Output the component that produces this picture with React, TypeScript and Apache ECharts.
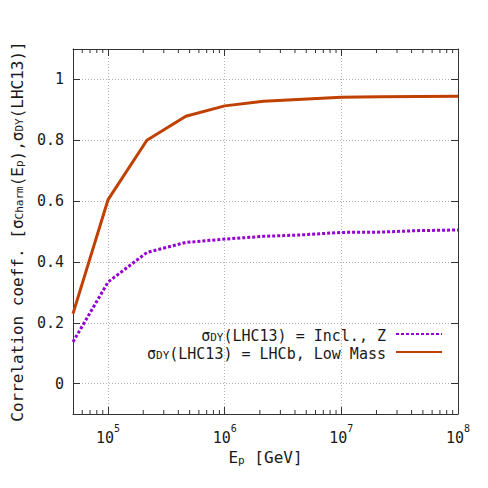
import React, { useEffect, useRef } from "react";
import * as echarts from "echarts";

const energies = [5e4, 1e5, 2.15e5, 4.64e5, 1e6, 2.15e6, 4.64e6, 1e7, 2.15e7, 4.64e7, 1e8];
const inclZ = [0.137, 0.334, 0.431, 0.464, 0.475, 0.484, 0.489, 0.497, 0.498, 0.503, 0.505];
const lhcbLowMass = [0.23, 0.605, 0.8, 0.879, 0.913, 0.928, 0.935, 0.941, 0.943, 0.944, 0.945];
const minorMantissas = [2, 3, 4, 5, 6, 7, 8, 9];
const minorDecades = [1e4, 1e5, 1e6, 1e7];
const seriesNames = ["σDY(LHC13) = Incl., Z", "σDY(LHC13) = LHCb, Low Mass"];

const FONT = "'DejaVu Sans Mono', monospace";
const TXT = "#1a1a1a";
const AX = "#333333";

export default function App() {
  const ref = useRef<HTMLDivElement>(null);
  useEffect(() => {
    if (!ref.current) return;
    const chart = echarts.init(ref.current, null, { renderer: "svg" });
    const minorTicks: number[][] = [];
    minorDecades.forEach((d) =>
      minorMantissas.forEach((m) => {
        const v = m * d;
        if (v > 5e4 && v < 1e8) minorTicks.push([v, -0.1]);
      })
    );
    const big = { fontFamily: FONT, fontSize: 16, color: TXT, lineHeight: 22, verticalAlign: "bottom" };
    const base = { fontFamily: FONT, fontSize: 15, color: TXT, lineHeight: 22, verticalAlign: "bottom" };
    const sub = { fontFamily: FONT, fontSize: 11, color: TXT, lineHeight: 12, verticalAlign: "bottom" };
    const sup = { fontFamily: FONT, fontSize: 10, color: TXT, lineHeight: 10, verticalAlign: "top" };
    const lgBase = { fontFamily: FONT, fontSize: 15, color: TXT, lineHeight: 18, verticalAlign: "bottom" };
    const lgSub = { fontFamily: FONT, fontSize: 11, color: TXT, lineHeight: 10, verticalAlign: "bottom" };
    const gridLine = { show: true, lineStyle: { color: "#b4b4b4", type: [1, 2], width: 1 } };
    const xCommon = {
      type: "log",
      logBase: 10,
      min: 5e4,
      max: 1e8,
      axisLine: { show: true, onZero: false, lineStyle: { color: AX, width: 1 } },
      axisTick: { show: true, inside: true, length: 7, lineStyle: { color: AX } },
    };
    const yCommon = {
      type: "value",
      min: -0.1,
      max: 1.1,
      axisLine: { show: true, onZero: false, lineStyle: { color: AX, width: 1 } },
      axisTick: { show: true, inside: true, length: 7, lineStyle: { color: AX } },
    };
    const data0 = energies.map((e, i) => [e, inclZ[i]]);
    const data1 = energies.map((e, i) => [e, lhcbLowMass[i]]);
    chart.setOption({
      animation: false,
      backgroundColor: "#ffffff",
      grid: { left: 73, right: 30, top: 49, bottom: 74, containLabel: false },
      xAxis: [
        {
          ...xCommon,
          position: "bottom",
          splitLine: gridLine,
          name: "{a|E}{s|p}{a| [GeV]}",
          nameLocation: "middle",
          nameGap: 27,
          nameTextStyle: { rich: { a: big, s: sub } },
          axisLabel: {
            margin: 9,
            showMinLabel: false,
            formatter: (v: number) => {
              const p = Math.log10(v);
              if (Math.abs(p - Math.round(p)) > 1e-6) return "";
              return "{a|10}{u|" + Math.round(p) + "}";
            },
            rich: { a: base, u: sup },
          },
        },
        {
          ...xCommon,
          position: "top",
          splitLine: { show: false },
          axisLabel: { show: false },
        },
      ],
      yAxis: [
        {
          ...yCommon,
          position: "left",
          splitLine: gridLine,
          name: "{a|Correlation coeff. [σ}{s|Charm}{a|(E}{s|p}{a|),σ}{s|DY}{a|(LHC13)]}",
          nameLocation: "middle",
          nameRotate: 90,
          nameGap: 48,
          nameTextStyle: { rich: { a: big, s: sub } },
          axisLabel: {
            margin: 9,
            fontFamily: FONT,
            fontSize: 15,
            color: TXT,
            formatter: (v: number) => {
              const r = Math.round(v * 10) / 10;
              if (Math.abs(r * 5 - Math.round(r * 5)) > 1e-6 || Math.abs(v - r) > 1e-6) return "";
              return String(r);
            },
          },
        },
        {
          ...yCommon,
          position: "right",
          splitLine: { show: false },
          axisLabel: { show: false },
        },
      ],
      legend: {
        orient: "vertical",
        align: "right",
        right: 45,
        top: 328,
        padding: 0,
        itemGap: 3,
        itemWidth: 46,
        itemHeight: 14,
        itemStyle: { opacity: 0 },
        data: [seriesNames[0], seriesNames[1]],
        formatter: (name: string) => {
          const rest = name.replace("σDY", "");
          return "{a|σ}{s|DY}{e|" + rest + "}";
        },
        textStyle: {
          rich: {
            a: lgBase,
            s: lgSub,
            e: { ...lgBase, padding: [0, 5, 0, 0] },
          },
        },
      },
      series: [
        {
          name: seriesNames[0],
          type: "line",
          data: data0,
          symbol: "none",
          showSymbol: false,
          xAxisIndex: 0,
          yAxisIndex: 0,
          lineStyle: { color: "#9400d3", width: 3, type: [3, 2], cap: "butt" },
          itemStyle: { color: "#9400d3" },
        },
        {
          name: seriesNames[1],
          type: "line",
          data: data1,
          symbol: "none",
          showSymbol: false,
          xAxisIndex: 0,
          yAxisIndex: 0,
          lineStyle: { color: "#c04000", width: 3 },
          itemStyle: { color: "#c04000" },
        },
        {
          type: "custom",
          xAxisIndex: 0,
          yAxisIndex: 0,
          data: minorTicks,
          silent: true,
          renderItem: (params: any, api: any) => {
            const x = api.value(0);
            const b = api.coord([x, -0.1]);
            const t = api.coord([x, 1.1]);
            return {
              type: "group",
              children: [
                { type: "line", shape: { x1: b[0], y1: b[1], x2: b[0], y2: b[1] - 4 }, style: { stroke: AX, lineWidth: 1 } },
                { type: "line", shape: { x1: t[0], y1: t[1], x2: t[0], y2: t[1] + 4 }, style: { stroke: AX, lineWidth: 1 } },
              ],
            };
          },
        },
      ],
    });
    return () => chart.dispose();
  }, []);
  return <div ref={ref} style={{ width: 488, height: 488, position: "absolute", left: 0, top: 0 }} />;
}
